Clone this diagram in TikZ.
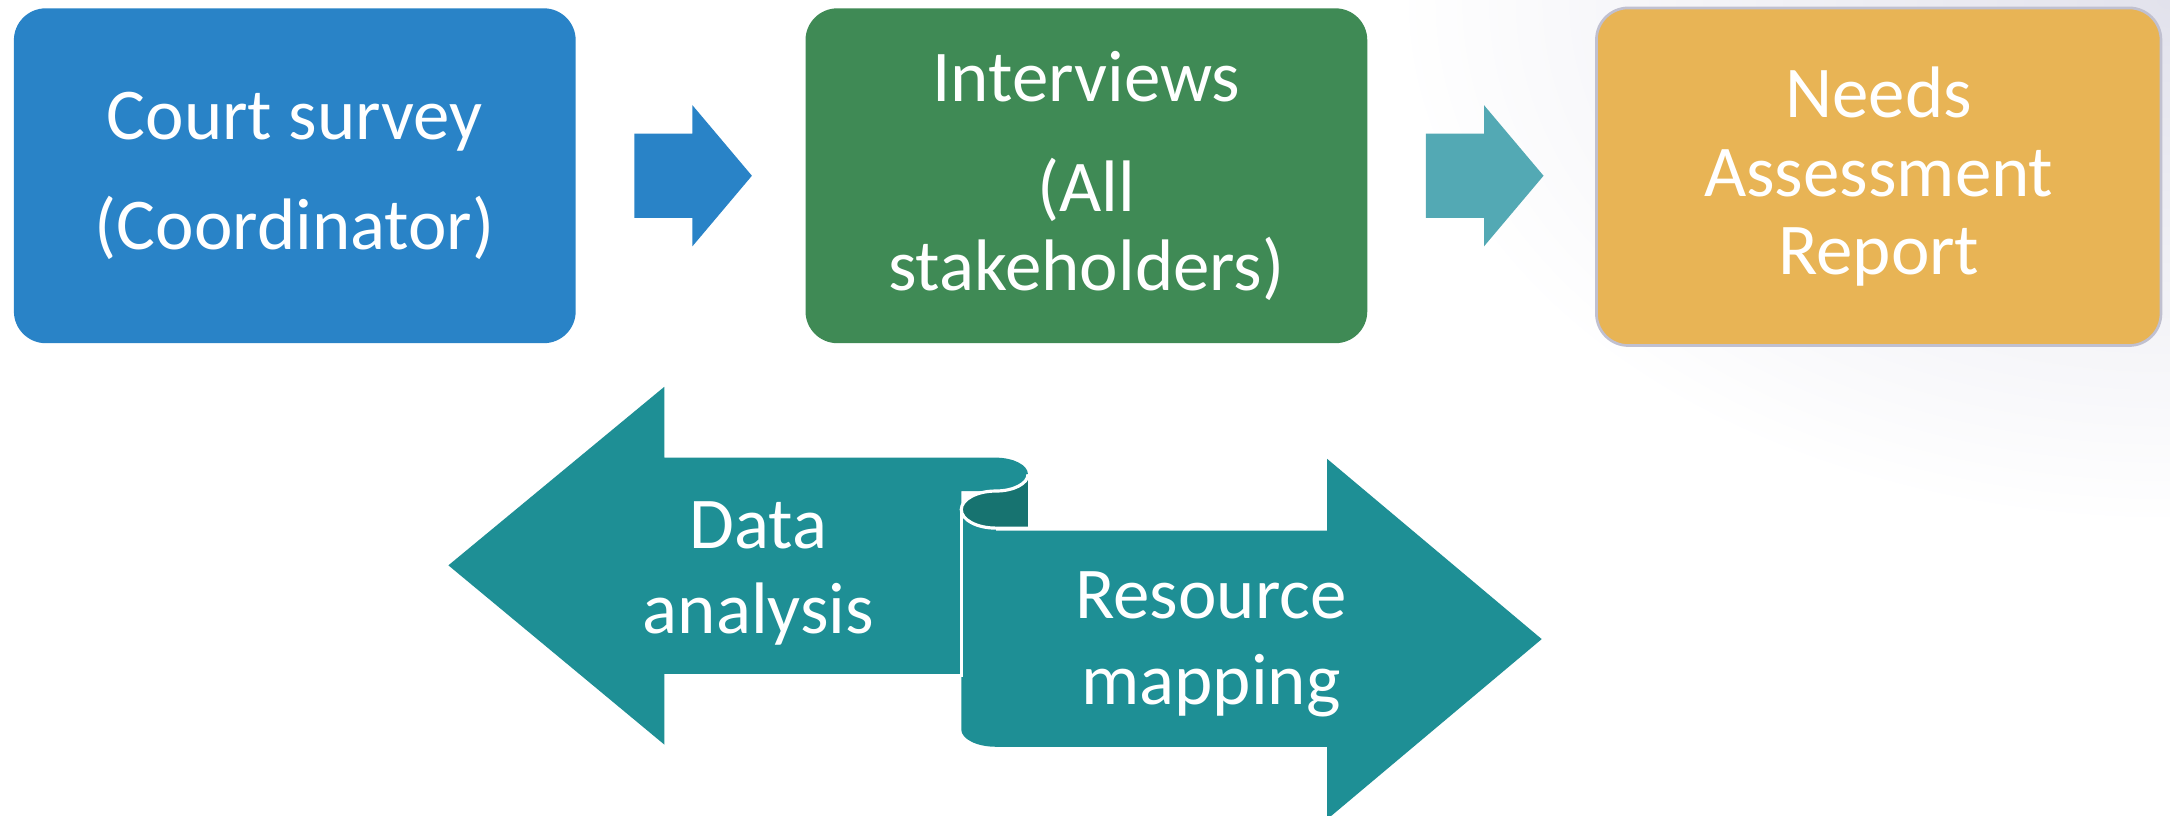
\documentclass[tikz,border=0pt]{standalone}
\usepackage{fontspec}
\setmainfont{Carlito}
\usetikzlibrary{positioning, calc}
\definecolor{courtblue}{RGB}{41, 131, 199}
\definecolor{interviewgreen}{RGB}{63, 138, 85}
\definecolor{reportgold}{RGB}{232, 180, 85}
\definecolor{reportedge}{RGB}{192, 192, 208}
\definecolor{stepteal}{RGB}{83, 169, 180}
\definecolor{scrollteal}{RGB}{30, 143, 149}
\definecolor{scrolldark}{RGB}{23, 115, 112}
\definecolor{slidegray}{RGB}{226, 226, 236}

\begin{document}
\begin{tikzpicture}[x=0.02cm, y=0.02cm,
        box/.style={rounded corners=0.46cm, minimum width=8.12cm, minimum height=4.84cm,
            align=center, text=white, inner sep=0pt, font=\fontsize{30}{32.4}\selectfont},
        scrolltext/.style={align=center, text=white, inner sep=0pt, font=\fontsize{30}{35.3}\selectfont}
    ]
        % Slide background
        \useasboundingbox (0, 0) rectangle (1568, 589);
        \fill[white] (0, 0) rectangle (1568, 589);
        \begin{scope}
            \clip (0, 0) rectangle (1568, 589);
            \shade[inner color=slidegray, outer color=white] (1568, 589) ellipse [x radius=560, y radius=380];
        \end{scope}

        % Top row
        \node[box, fill=courtblue, font=\fontsize{30}{45.3}\selectfont] (court) at (213, 462) {
            Court survey\\
            (Coordinator)
        };
        \node[box, fill=interviewgreen] (interviews) at (785, 462) {
            Interviews\\[12.9pt]
            (All\\
            stakeholders)
        };
        \node[box, fill=reportgold, draw=reportedge, line width=1.1pt,
            minimum width=8.16cm, minimum height=4.88cm] (report) at (1357.5, 461.3) {
            Needs\\
            Assessment\\
            Report
        };

        % Step arrows
        \fill[courtblue] ($(court.east)+(42, -30.5)$) -- ++(42, 0) -- ++(0, -20.5) -- ++(43, 51)
            -- ++(-43, 51) -- ++(0, -20.5) -- ++(-42, 0) -- cycle;
        \fill[stepteal] ($(interviews.east)+(42, -30.5)$) -- ++(42, 0) -- ++(0, -20.5) -- ++(43, 51)
            -- ++(-43, 51) -- ++(0, -20.5) -- ++(-42, 0) -- cycle;

        % Scroll arrows
        \coordinate (curl) at (719.6, 246.25);
        \coordinate (roll) at (719.6, 220.8);
        \fill[scrollteal] (694.6, 102) -- (480, 102) -- (480, 51) -- (324, 180.5) -- (480, 309.5)
            -- (480, 258.3) -- (719.6, 258.3)
            arc[start angle=90, end angle=-90, x radius=23.2, y radius=12.05]
            -- (694.6, 234.2) -- cycle;
        \fill[scrollteal] (694.6, 220.8) -- (694.6, 61.9)
            arc[start angle=180, end angle=270, x radius=25, y radius=12.5]
            -- (959, 49.4) -- (959, -3) -- (1114, 127.2) -- (959, 257.4) -- (959, 205.5)
            -- (719.6, 205.5) -- (719.6, 207.4)
            arc[start angle=-90, end angle=-180, x radius=25, y radius=13.4] -- cycle;
        \fill[scrolldark] (719.6, 234.2)
            arc[start angle=90, end angle=270, x radius=25, y radius=13.4]
            -- (742.8, 207.4) -- (742.8, 246.25)
            arc[start angle=0, end angle=-90, x radius=23.2, y radius=12.05] -- cycle;
        \draw[white, line width=1.3pt] (742.8, 246.25)
            arc[start angle=0, end angle=-90, x radius=23.2, y radius=12.05]
            arc[start angle=90, end angle=270, x radius=25, y radius=13.4] -- (742.8, 207.4);
        \draw[white, line width=1.3pt] (roll) ++(-25, 0) -- (694.6, 100);

        \node[scrolltext] (analysis) at (548, 174.6) {Data\\analysis};
        \node[scrolltext] (mapping) at (875, 123.4) {Resource\\mapping};
    \end{tikzpicture}
\end{document}
